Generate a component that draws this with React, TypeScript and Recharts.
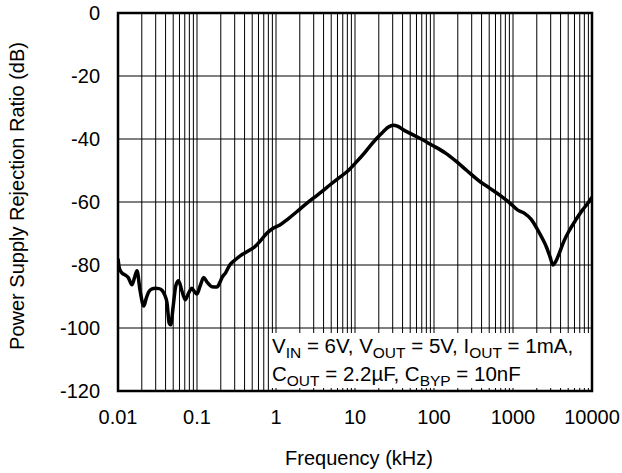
import React from "react";
import {
  LineChart,
  Line,
  XAxis,
  YAxis,
  CartesianGrid,
  ReferenceArea,
} from "recharts";

// PSRR curve (frequency in kHz, PSRR in dB)
const freqKHz = [
  0.01, 0.0104, 0.0112, 0.0124, 0.0135, 0.015, 0.0162, 0.0174, 0.019, 0.0212,
  0.0228, 0.0245, 0.027, 0.0297, 0.033, 0.036, 0.039, 0.0417, 0.0445, 0.0465,
  0.05, 0.054, 0.0585, 0.064, 0.071, 0.078, 0.0863, 0.093, 0.1, 0.11, 0.1215,
  0.135, 0.154, 0.179, 0.195, 0.207, 0.23, 0.26, 0.3, 0.355, 0.45, 0.54, 0.65,
  0.76, 0.9, 1.12, 1.4, 1.83, 2.3, 2.96, 3.8, 4.8, 6.2, 7.9, 10.5, 12.8, 15.3,
  18.5, 22.8, 26.5, 30.5, 35, 41, 50, 60.5, 75, 89, 100, 140, 193, 260, 380,
  500, 680, 900, 1140, 1400, 1700, 2060, 2400, 2640, 2950, 3200, 3450, 3850,
  4400, 5200, 6300, 7600, 8800, 10000,
];
const psrrDb = [
  -78, -81, -82.5, -83.2, -84, -86.3, -84, -81.8, -88, -93, -90.5, -88.5,
  -87.6, -87.4, -87.5, -88, -89.5, -92, -98.5, -99, -93, -86.5, -85, -88, -91,
  -89, -87.4, -88.5, -89.2, -86.5, -84, -85.5, -86.9, -87, -85.5, -84, -82.5,
  -80, -78.5, -77, -75.5, -74.2, -72, -70, -68.5, -67.3, -65.5, -63.1, -61,
  -58.8, -56.7, -54.6, -52.4, -50.4, -47.2, -44.8, -42.4, -40, -37.7, -36.2,
  -35.6, -36, -37.1, -38.2, -39.3, -40.5, -41.6, -42.3, -44.5, -47.2, -50,
  -53.5, -55.5, -57.8, -60.2, -62.5, -63.6, -65.5, -68.9, -72, -74.2, -77.5,
  -80, -79, -76.3, -72.5, -68.9, -65.5, -62.5, -60.5, -58.5,
];

const decades = [0.01, 0.1, 1, 10, 100, 1000, 10000];
const decadeLabels = ["0.01", "0.1", "1", "10", "100", "1000", "10000"];
const minorSteps = [2, 3, 4, 5, 6, 7, 8, 9];
const yTicks = [-120, -100, -80, -60, -40, -20, 0];

const data = freqKHz.map((f, i) => ({ f, db: psrrDb[i] }));

const gridTicks: number[] = [];
decades.forEach((d, i) => {
  gridTicks.push(d);
  if (i < decades.length - 1) minorSteps.forEach((m) => gridTicks.push(+(d * m).toPrecision(6)));
});

const FONT = "'Liberation Sans', Arial, sans-serif";

const formatX = (v: number) => {
  const i = decades.findIndex((d) => Math.abs(d - v) < d * 1e-6);
  return i >= 0 ? decadeLabels[i] : "";
};

const subStyle: React.CSSProperties = {
  fontSize: 15.5,
  position: "relative",
  top: 5,
};

export default function App() {
  return (
    <div style={{ position: "absolute", left: 0, top: 0, width: 622, height: 473, background: "#fff" }}>
      <LineChart
        width={622}
        height={473}
        data={data}
        margin={{ top: 13, right: 30, left: 0, bottom: 0 }}
        style={{ fontFamily: FONT }}
      >
        <CartesianGrid horizontal={false} stroke="#000" strokeWidth={1} />
        <CartesianGrid vertical={false} stroke="#000" strokeWidth={1} />
        <XAxis
          dataKey="f"
          type="number"
          scale="log"
          domain={[0.01, 10000]}
          ticks={gridTicks}
          interval={0}
          tickFormatter={formatX}
          tickLine={false}
          tickSize={0}
          tickMargin={19}
          axisLine={false}
          height={82}
          allowDataOverflow
          tick={{ fill: "#000", fontSize: 20, fontFamily: FONT }}
          label={({ viewBox }: any) => (
            <text
              x={viewBox.x + viewBox.width / 2 + 4}
              y={465}
              textAnchor="middle"
              fontSize={20}
              fontFamily={FONT}
              fill="#000"
            >
              Frequency (kHz)
            </text>
          )}
        />
        <YAxis
          type="number"
          domain={[-120, 0]}
          ticks={yTicks}
          interval={0}
          tickLine={false}
          tickSize={0}
          tickMargin={18}
          axisLine={false}
          width={118}
          tick={{ fill: "#000", fontSize: 20, fontFamily: FONT }}
          label={({ viewBox }: any) => {
            const cy = viewBox.y + viewBox.height / 2 - 6;
            return (
              <text
                x={24}
                y={cy}
                transform={`rotate(-90 24 ${cy})`}
                textAnchor="middle"
                fontSize={20}
                fontFamily={FONT}
                fill="#000"
              >
                Power Supply Rejection Ratio (dB)
              </text>
            );
          }}
        />
        <Line
          dataKey="db"
          type="monotone"
          stroke="#000"
          strokeWidth={3.5}
          dot={false}
          isAnimationActive={false}
        />
        <ReferenceArea
          x1={0.01}
          x2={10000}
          y1={-120}
          y2={0}
          fill="none"
          stroke="#000"
          strokeWidth={2.5}
          ifOverflow="visible"
        />
      </LineChart>
      <div
        style={{
          position: "absolute",
          left: 270,
          top: 333,
          width: 320,
          height: 55,
          background: "#fff",
          fontFamily: FONT,
          fontSize: 20.5,
          lineHeight: "26px",
          color: "#000",
          paddingLeft: 2,
          boxSizing: "border-box",
          whiteSpace: "nowrap",
        }}
      >
        <div>
          V<span style={subStyle}>IN</span> = 6V, V<span style={subStyle}>OUT</span> = 5V, I
          <span style={subStyle}>OUT</span> = 1mA,
        </div>
        <div>
          C<span style={subStyle}>OUT</span> = 2.2µF, C<span style={subStyle}>BYP</span> = 10nF
        </div>
      </div>
    </div>
  );
}
